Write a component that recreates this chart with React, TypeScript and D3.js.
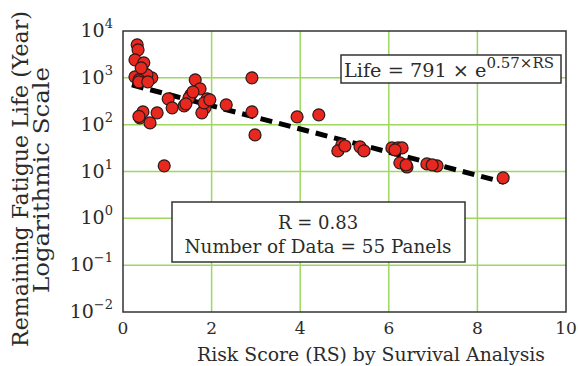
import React from 'react';
import * as d3 from 'd3';

// Risk score (x) and remaining fatigue life in years (y)
const riskScore = [
  0.32, 0.34, 0.27, 0.47, 0.45, 0.27, 0.45, 0.65, 0.54, 0.36,
  0.41, 0.36, 0.56, 0.38, 0.45, 0.61, 0.77, 0.36, 0.93, 1.02,
  1.11, 1.38, 1.53, 1.63, 1.74, 1.90, 1.85, 1.78, 1.49, 1.58,
  1.83, 1.96, 1.42, 2.33, 2.91, 2.91, 2.98, 3.93, 4.42, 4.94,
  4.85, 5.35, 5.44, 5.01, 6.07, 6.21, 6.30, 6.14, 6.25, 6.41,
  6.39, 6.86, 7.09, 6.98, 8.58,
];
const fatigueLife = [
  5070, 3965, 2425, 2094, 1343, 1050, 1000, 1000, 1159, 906,
  1636, 822, 822, 140, 188, 109, 179, 150, 13.2, 356,
  229, 252, 433, 906, 582, 356, 229, 179, 374, 502,
  292, 339, 278, 265, 1000, 188, 60.5, 147, 162, 37,
  27.5, 33.6, 27.5, 35, 31.9, 31.9, 31.9, 29, 15.3, 12.5,
  13.8, 14.5, 13.2, 13.8, 7.3,
];

const xTicks = [0, 2, 4, 6, 8, 10];
const yExponents = [-2, -1, 0, 1, 2, 3, 4];

// exponential fit: Life = fitA * e^(fitB * RS)
const fitA = 791;
const fitB = -0.57;
const fitRange = [0.2, 8.6];

const W = 578;
const H = 366;
const margin = { top: 31, right: 12, bottom: 54, left: 123 };
const FONT = '"DejaVu Serif", serif';
const GRID = '#9ed85f';
const INK = '#2b2b2b';

export default function App() {
  const x = d3.scaleLinear().domain([0, 10]).range([margin.left, W - margin.right]);
  const y = d3.scaleLog().domain([1e-2, 1e4]).range([H - margin.bottom, margin.top]);

  const fitPts = fitRange.map(rs => [rs, fitA * Math.exp(fitB * rs)] as [number, number]);
  const line = d3.line<[number, number]>()
    .x(d => x(d[0]))
    .y(d => y(d[1]));

  const pts = riskScore.map((rs, i) => ({ rs, life: fatigueLife[i] }));
  const x0 = x(0), x1 = x(10), yTop = y(1e4), yBot = y(1e-2);

  return (
    <svg width={W} height={H} style={{ position: 'absolute', left: 0, top: 0 }} fontFamily={FONT}>
      <rect width={W} height={H} fill="#fff" />
      {/* grid */}
      {xTicks.slice(1, -1).map(t => (
        <line key={'gx' + t} x1={x(t)} x2={x(t)} y1={yTop} y2={yBot} stroke={GRID} strokeWidth={1.5} />
      ))}
      {yExponents.slice(1, -1).map(e => (
        <line key={'gy' + e} x1={x0} x2={x1} y1={y(Math.pow(10, e))} y2={y(Math.pow(10, e))} stroke={GRID} strokeWidth={1.5} />
      ))}
      {/* fit line */}
      <path d={line(fitPts) || ''} fill="none" stroke="#000" strokeWidth={5} strokeDasharray="12 7" />
      {/* data points */}
      {pts.map((d, i) => (
        <circle key={i} cx={x(d.rs)} cy={y(d.life)} r={6} fill="#e8281e" stroke="#2a1a1a" strokeWidth={1.2} />
      ))}
      {/* frame */}
      <rect x={x0} y={yTop} width={x1 - x0} height={yBot - yTop} fill="none" stroke="#333" strokeWidth={1.5} />
      {/* x ticks */}
      {xTicks.map(t => (
        <text key={'tx' + t} x={x(t)} y={yBot + 22} textAnchor="middle" fontSize={17} fill={INK}>{t}</text>
      ))}
      {/* y ticks */}
      {yExponents.map(e => (
        <text key={'ty' + e} x={x0 - 10} y={y(Math.pow(10, e)) + 6} textAnchor="end" fontSize={19} fill={INK}>
          10<tspan dy={-9} fontSize={13}>{e < 0 ? '\u2212' + Math.abs(e) : e}</tspan>
        </text>
      ))}
      {/* axis titles */}
      <text x={371} y={361} textAnchor="middle" fontSize={19} fill={INK} textLength={348} lengthAdjust="spacingAndGlyphs">
        Risk Score (RS) by Survival Analysis
      </text>
      <text transform={`translate(28,179) rotate(-90)`} textAnchor="middle" fontSize={22} fill={INK} textLength={336} lengthAdjust="spacingAndGlyphs">
        Remaining Fatigue Life (Year)
      </text>
      <text transform={`translate(49,180) rotate(-90)`} textAnchor="middle" fontSize={22} fill={INK} textLength={226} lengthAdjust="spacingAndGlyphs">
        Logarithmic Scale
      </text>
      {/* annotation boxes */}
      <rect x={341} y={55} width={220} height={28} fill="#fff" stroke="#333" strokeWidth={1.5} />
      <text x={344} y={77} fontSize={18} fill={INK} textLength={210} lengthAdjust="spacingAndGlyphs">
        Life = 791 × e<tspan dy={-9} fontSize={14}>0.57×RS</tspan>
      </text>
      <rect x={172} y={202} width={293} height={60} fill="#fff" stroke="#333" strokeWidth={1.5} />
      <text x={318} y={229} textAnchor="middle" fontSize={18} fill={INK}>R = 0.83</text>
      <text x={318} y={253} textAnchor="middle" fontSize={18} fill={INK} textLength={267} lengthAdjust="spacingAndGlyphs">Number of Data = 55 Panels</text>
    </svg>
  );
}
